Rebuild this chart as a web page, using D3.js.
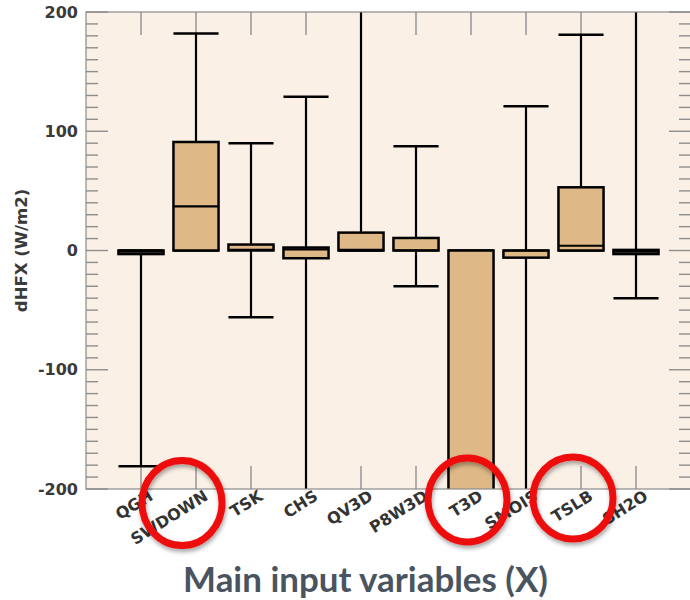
<!DOCTYPE html>
<html>
<head>
<meta charset="utf-8">
<script src="https://cdn.jsdelivr.net/npm/d3@7"></script>
<style>
  html, body { margin: 0; padding: 0; background: #ffffff; }
  svg { display: block; }
</style>
</head>
<body>
<div id="chart"></div>
<script>
// ---- data ----
const categories  = ["QGH", "SWDOWN", "TSK", "CHS", "QV3D", "P8W3D", "T3D", "SMOIS", "TSLB", "SH2O"];
const whiskerLow  = [-181,   0,  -56, -260,   0, -30, -300, -260,   0, -40];
const quartile1   = [  -3,   0,    0, -6.5,   0,   0, -260,   -6,   0,  -3];
const medians     = [  -1,  37,  0.5,    1, 0.5,   0, -230,    0,   4,  -1];
const quartile3   = [   0,  91,    5,  2.5,  15, 10.5,   0,    0,  53, 0.5];
const whiskerHigh = [   0, 182,   90,  129, 260, 87.5,   0,  121, 181, 260];
const yMajorTicks = [-200, -100, 0, 100, 200];
const highlighted = ["SWDOWN", "T3D", "TSLB"];
const yTitle = "dHFX (W/m2)";
const xTitle = "Main input variables (X)";

const W = 690, H = 600;
const plot = { left: 86, right: 691, top: 12, bottom: 489 };

const svg = d3.select("#chart").append("svg")
  .attr("width", W).attr("height", H);

const defs = svg.append("defs");
defs.append("clipPath").attr("id", "plotclip")
  .append("rect")
  .attr("x", plot.left).attr("y", plot.top)
  .attr("width", plot.right - plot.left).attr("height", plot.bottom - plot.top);

const shadow = defs.append("filter").attr("id", "shadow")
  .attr("x", "-20%").attr("y", "-20%").attr("width", "140%").attr("height", "140%");
shadow.append("feDropShadow")
  .attr("dx", 1).attr("dy", 3).attr("stdDeviation", 2)
  .attr("flood-color", "#000").attr("flood-opacity", 0.35);

const x = d3.scaleLinear().domain([0, categories.length + 1]).range([plot.left, plot.right]);
const y = d3.scaleLinear().domain([-200, 200]).range([plot.bottom, plot.top]);

// plot background
svg.append("rect")
  .attr("x", plot.left).attr("y", plot.top)
  .attr("width", plot.right - plot.left).attr("height", plot.bottom - plot.top)
  .attr("fill", "#FAF0E6");

// ticks (inside the frame)
const tickCol = "#8e8e8e";
const gT = svg.append("g").attr("stroke", tickCol).attr("stroke-width", 1.4);
const minorVals = d3.range(-200, 201, 10);
minorVals.forEach(v => {
  const major = v % 100 === 0;
  const len = major ? 22 : 12;
  gT.append("line").attr("x1", plot.left).attr("x2", plot.left + len)
    .attr("y1", y(v)).attr("y2", y(v));
  gT.append("line").attr("x1", plot.right).attr("x2", plot.right - len)
    .attr("y1", y(v)).attr("y2", y(v));
});
categories.forEach((c, i) => {
  const xv = x(i + 1);
  gT.append("line").attr("x1", xv).attr("x2", xv).attr("y1", plot.top).attr("y2", plot.top + 23);
  gT.append("line").attr("x1", xv).attr("x2", xv).attr("y1", plot.bottom).attr("y2", plot.bottom - 23);
});

// boxes
const gB = svg.append("g").attr("clip-path", "url(#plotclip)");
const halfBox = 0.41;
categories.forEach((c, i) => {
  const cx = x(i + 1);
  const hw = x(1 + halfBox) - x(1);
  const g = gB.append("g");
  g.append("line").attr("x1", cx).attr("x2", cx)
    .attr("y1", y(whiskerLow[i])).attr("y2", y(whiskerHigh[i]))
    .attr("stroke", "#000").attr("stroke-width", 2.2);
  [whiskerLow[i], whiskerHigh[i]].forEach(v => {
    g.append("line").attr("x1", cx - hw).attr("x2", cx + hw)
      .attr("y1", y(v)).attr("y2", y(v))
      .attr("stroke", "#000").attr("stroke-width", 2.5);
  });
  g.append("rect")
    .attr("x", cx - hw).attr("width", 2 * hw)
    .attr("y", y(quartile3[i])).attr("height", Math.max(0, y(quartile1[i]) - y(quartile3[i])))
    .attr("fill", "#DEB887").attr("stroke", "#000").attr("stroke-width", 2.5);
  g.append("line").attr("x1", cx - hw).attr("x2", cx + hw)
    .attr("y1", y(medians[i])).attr("y2", y(medians[i]))
    .attr("stroke", "#000").attr("stroke-width", 2.2);
});

// frame
svg.append("rect")
  .attr("x", plot.left).attr("y", plot.top)
  .attr("width", plot.right - plot.left).attr("height", plot.bottom - plot.top)
  .attr("fill", "none").attr("stroke", "#8a8a8a").attr("stroke-width", 1.2);

// y tick labels
const font = "'DejaVu Sans', sans-serif";
svg.append("g").selectAll("text").data(yMajorTicks).join("text")
  .attr("x", plot.left - 8).attr("y", d => y(d))
  .attr("text-anchor", "end").attr("dominant-baseline", "central")
  .attr("font-family", font).attr("font-weight", "bold").attr("font-size", 16)
  .attr("fill", "#3a3a3a")
  .text(d => d);

// y title
svg.append("text")
  .attr("transform", `translate(27, ${(plot.top + plot.bottom) / 2}) rotate(-90)`)
  .attr("text-anchor", "middle")
  .attr("font-family", font).attr("font-weight", "bold").attr("font-size", 16.5)
  .attr("fill", "#3a3a3a")
  .text(yTitle);

// x tick labels (rotated)
svg.append("g").selectAll("text").data(categories).join("text")
  .attr("transform", (d, i) => `translate(${x(i + 1) + 13}, 499) rotate(-32)`)
  .attr("text-anchor", "end")
  .attr("font-family", font).attr("font-weight", "bold").attr("font-size", 16)
  .attr("fill", "#333")
  .text(d => d);

// x title
const xt = svg.append("text")
  .attr("x", 365.5).attr("y", 592)
  .attr("text-anchor", "middle")
  .attr("font-family", "Lato, 'Open Sans', sans-serif").attr("font-weight", "bold")
  .attr("font-size", 30)
  .attr("fill", "#4a5461")
  .text(xTitle);
const targetW = 365;
const curW = xt.node().getComputedTextLength();
if (curW > 0) xt.attr("font-size", 30 * targetW / curW);

// red highlight ellipses
const ellipseSpec = { SWDOWN: [182, 503, 40, 42.5], T3D: [467.5, 500, 39.5, 42], TSLB: [573, 498, 40, 41] };
svg.append("g").selectAll("ellipse").data(highlighted).join("ellipse")
  .attr("cx", d => ellipseSpec[d][0]).attr("cy", d => ellipseSpec[d][1])
  .attr("rx", d => ellipseSpec[d][2]).attr("ry", d => ellipseSpec[d][3])
  .attr("fill", "none").attr("stroke", "#ee1010").attr("stroke-width", 7)
  .attr("filter", "url(#shadow)");
</script>
</body>
</html>
